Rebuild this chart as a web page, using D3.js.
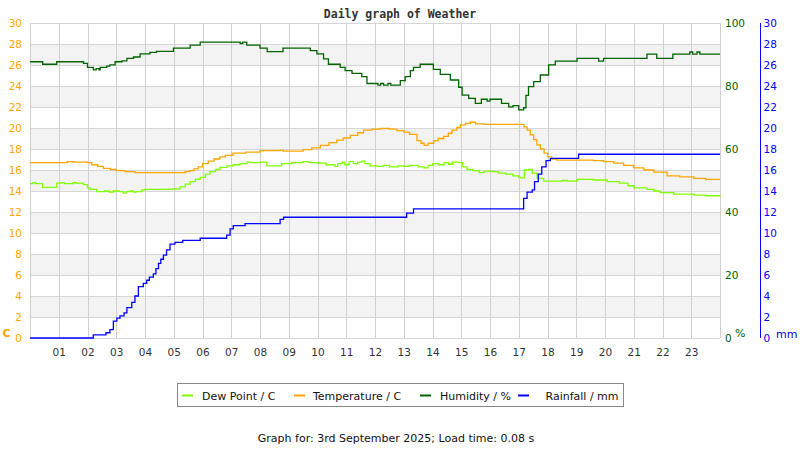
<!DOCTYPE html>
<html>
<head>
<meta charset="utf-8">
<script src="https://cdn.jsdelivr.net/npm/d3@7.9.0/dist/d3.min.js"></script>
<style>
  body { margin: 0; background: #fff; }
  svg { display: block; font-family: "DejaVu Sans", sans-serif; }
</style>
</head>
<body>
<svg id="chart" width="800" height="450"></svg>
<script>
// [hour, value] readings for the day
const temperature = [
  [0,16.7],[1.3,16.8],[1.5,16.75],[2.0,16.7],[2.15,16.5],[2.35,16.35],[2.55,16.15],[2.8,16.05],
  [3.0,15.95],[3.3,15.85],[3.65,15.75],[5.2,15.75],[5.4,15.85],[5.55,15.95],[5.7,16.1],[5.85,16.3],
  [6.0,16.6],[6.2,16.85],[6.4,17.05],[6.6,17.25],[6.8,17.4],[7.06,17.6],[7.5,17.7],[8.0,17.85],
  [8.7,17.9],[8.8,17.8],[9.5,17.95],[9.8,18.1],[10.1,18.35],[10.4,18.6],[10.67,18.85],[10.9,19.05],
  [11.14,19.3],[11.4,19.55],[11.6,19.8],[11.9,19.9],[12.18,19.95],[12.5,19.9],[12.76,19.75],[13.0,19.6],
  [13.2,19.4],[13.46,18.8],[13.6,18.55],[13.71,18.35],[13.85,18.55],[14.04,18.8],[14.2,19.0],[14.39,19.2],
  [14.55,19.5],[14.68,19.8],[14.85,20.05],[14.97,20.3],[15.15,20.45],[15.31,20.55],[15.5,20.4],[15.78,20.35],
  [17.05,20.35],[17.18,20.1],[17.29,19.8],[17.4,19.35],[17.52,18.9],[17.63,18.4],[17.75,18.0],[17.88,17.6],
  [18.0,17.25],[18.15,17.05],[18.33,16.95],[19.6,16.9],[19.95,16.8],[20.3,16.65],[20.65,16.45],[21.0,16.2],
  [21.35,16.0],[21.7,15.8],[22.16,15.45],[22.6,15.35],[23.09,15.2],[23.5,15.1],[24,15.1]
];

const dewPoint = [
  [0,14.7],[0.1,14.8],[0.2,14.7],[0.44,14.35],[0.93,14.75],[1.1,14.8],[1.2,14.7],[1.5,14.8],[1.6,14.75],
  [1.86,14.6],[2.0,14.3],[2.09,14.15],[2.32,13.95],[2.6,14.0],[2.75,13.9],[2.9,14.0],[3.1,13.95],[3.25,13.8],
  [3.35,13.95],[3.5,14.0],[3.6,13.9],[3.7,13.95],[3.89,14.1],[4.0,14.15],[4.93,14.2],[5.22,14.4],[5.4,14.65],
  [5.57,14.9],[5.75,15.1],[5.92,15.3],[6.1,15.6],[6.26,15.85],[6.45,16.05],[6.61,16.25],[6.85,16.4],[7.07,16.5],
  [7.3,16.6],[7.54,16.75],[7.7,16.7],[8.0,16.75],[8.24,16.4],[8.75,16.6],[9.1,16.7],[9.5,16.8],[9.7,16.7],
  [10.0,16.65],[10.3,16.5],[10.6,16.35],[10.7,16.6],[10.85,16.75],[10.95,16.5],[11.1,16.8],[11.25,16.6],
  [11.4,16.75],[11.55,16.85],[11.65,16.6],[11.83,16.4],[12.1,16.35],[12.3,16.45],[12.5,16.3],[12.8,16.4],
  [13.0,16.35],[13.2,16.45],[13.5,16.3],[13.7,16.2],[13.85,16.45],[14.0,16.6],[14.2,16.5],[14.4,16.7],
  [14.55,16.55],[14.7,16.75],[14.9,16.7],[15.05,16.3],[15.2,16.05],[15.4,15.95],[15.63,15.75],[15.8,15.9],
  [16.1,15.85],[16.3,15.7],[16.55,15.6],[16.8,15.45],[17.0,15.3],[17.07,15.25],[17.2,16.0],[17.35,16.05],
  [17.47,15.7],[17.64,15.2],[17.87,14.95],[18.5,15.0],[18.7,14.95],[19.03,15.1],[19.6,15.05],[20.07,14.9],
  [20.5,14.75],[20.8,14.5],[21.0,14.3],[21.46,14.15],[21.7,14.0],[21.92,13.85],[22.39,13.7],[23.09,13.6],
  [23.5,13.55],[24,13.5]
];

const humidity = [
  [0,87.7],[0.44,86.9],[0.93,87.7],[1.86,87.2],[2.0,85.9],[2.2,85.1],[2.3,85.5],[2.4,85.1],[2.44,85.9],
  [2.67,86.3],[2.78,86.7],[2.96,87.7],[3.2,88.0],[3.37,88.8],[3.6,89.2],[3.83,90.2],[4.17,90.7],[4.4,91.0],
  [4.99,92.0],[5.57,93.0],[5.92,93.9],[7.31,93.5],[7.4,93.9],[7.54,93.0],[8.0,92.0],[8.25,90.9],[8.8,92.0],
  [9.75,91.2],[9.98,90.2],[10.21,88.6],[10.38,86.9],[10.79,85.9],[10.96,84.9],[11.2,84.0],[11.54,83.0],
  [11.72,80.8],[12.1,80.3],[12.2,80.8],[12.3,80.3],[12.45,80.8],[12.55,80.3],[12.88,81.7],[13.05,83.0],
  [13.23,84.9],[13.34,85.9],[13.57,86.9],[13.97,86.9],[14.03,85.3],[14.27,83.7],[14.62,81.9],[14.91,79.6],
  [15.03,77.1],[15.26,76.1],[15.49,74.5],[15.7,75.8],[15.9,75.2],[16.0,75.8],[16.3,75.8],[16.4,74.5],
  [16.65,73.4],[16.8,73.8],[17.0,72.4],[17.17,73.1],[17.25,77.0],[17.34,79.8],[17.52,81.4],[17.75,83.5],
  [18.04,86.7],[18.27,87.9],[19.03,88.8],[19.78,87.9],[19.95,88.8],[21.46,90.1],[21.8,88.8],[22.36,90.1],
  [22.9,90.1],[22.95,90.8],[23.05,90.1],[23.2,90.8],[23.3,90.1],[24,90.1]
];

const rainfall = [
  [0,0],[2.2,0.3],[2.64,0.5],[2.78,0.8],[2.9,1.6],[3.02,1.9],[3.13,2.1],[3.27,2.4],[3.37,2.9],[3.54,3.4],
  [3.65,4.0],[3.77,4.9],[3.94,5.2],[4.06,5.5],[4.15,5.8],[4.29,6.1],[4.38,6.6],[4.47,7.1],[4.55,7.5],
  [4.64,7.9],[4.75,8.4],[4.87,8.95],[5.04,9.1],[5.31,9.3],[5.92,9.5],[6.84,9.8],[6.96,10.4],[7.07,10.7],
  [7.48,10.9],[8.7,11.3],[8.82,11.5],[13.1,11.9],[13.34,12.3],[17.17,13.3],[17.29,13.9],[17.47,14.1],
  [17.55,14.9],[17.68,15.6],[17.8,16.3],[17.95,16.9],[18.1,17.1],[19.08,17.5],[24,17.5]
];

const hourTicks = d3.range(1, 24);
const tempTicks = d3.range(0, 31, 2);
const humTicks = [0, 20, 40, 60, 80, 100];
const rainTicks = d3.range(0, 31, 2);

const legendItems = [
  { label: 'Dew Point / C', color: '#80ff00', x: 182, tx: 202 },
  { label: 'Temperature / C', color: '#ffa500', x: 294, tx: 313 },
  { label: 'Humidity / %', color: '#006400', x: 420, tx: 440 },
  { label: 'Rainfall / mm', color: '#0000ff', x: 518, tx: 545.5 }
];

const svg = d3.select('#chart');
const plot = { left: 30, right: 720, top: 23, bottom: 338 };

const x = d3.scaleLinear().domain([0, 24]).range([plot.left, plot.right]);
const yTemp = d3.scaleLinear().domain([0, 30]).range([plot.bottom, plot.top]);
const yHum = d3.scaleLinear().domain([0, 100]).range([plot.bottom, plot.top]);
const yRain = d3.scaleLinear().domain([0, 30]).range([plot.bottom, plot.top]);

// Title
svg.append('text')
  .attr('x', 400).attr('y', 17.5)
  .attr('text-anchor', 'middle')
  .style('font-family', '"DejaVu Sans Mono", monospace')
  .style('font-weight', 'bold')
  .style('font-size', '11.5px')
  .attr('fill', '#333')
  .text('Daily graph of Weather');

// Alternating bands
svg.append('g')
  .selectAll('rect')
  .data(tempTicks.filter((d) => d % 4 === 2 && d < 30))
  .join('rect')
  .attr('x', plot.left)
  .attr('width', plot.right - plot.left)
  .attr('y', (d) => yTemp(d + 2))
  .attr('height', (d) => yTemp(d) - yTemp(d + 2))
  .attr('fill', '#f3f3f3');

// Grid
const grid = svg.append('g').attr('stroke', '#d6d6d6').attr('stroke-width', 1);
grid.selectAll('.h')
  .data(tempTicks)
  .join('line')
  .attr('x1', plot.left).attr('x2', plot.right)
  .attr('y1', (d) => Math.round(yTemp(d)) + 0.5)
  .attr('y2', (d) => Math.round(yTemp(d)) + 0.5);
grid.selectAll('.v')
  .data([0, ...hourTicks, 24])
  .join('line')
  .attr('x1', (d) => Math.round(x(d)) + 0.5)
  .attr('x2', (d) => Math.round(x(d)) + 0.5)
  .attr('y1', plot.top).attr('y2', plot.bottom)
  .attr('stroke', '#cfcfcf');

// Axes
function styleAxis(g, color, size) {
  g.select('.domain').remove();
  g.selectAll('text')
    .attr('fill', color)
    .style('font-family', '"DejaVu Sans", sans-serif')
    .style('font-size', size);
}

svg.append('g')
  .attr('transform', `translate(${plot.left},0)`)
  .call(d3.axisLeft(yTemp).tickValues(tempTicks).tickSize(0).tickPadding(8))
  .call((g) => styleAxis(g, '#ffa500', '10.5px'));

svg.append('g')
  .attr('transform', `translate(${plot.right},0)`)
  .call(d3.axisRight(yHum).tickValues(humTicks).tickSize(0).tickPadding(5))
  .call((g) => styleAxis(g, '#006400', '10.5px'));

const rainAxis = svg.append('g')
  .attr('transform', 'translate(760,0)')
  .call(d3.axisRight(yRain).tickValues(rainTicks).tickSize(0).tickPadding(3.5))
  .call((g) => styleAxis(g, '#0000ff', '10.5px'));
rainAxis.append('line')
  .attr('x1', 0.5).attr('x2', 0.5)
  .attr('y1', plot.top).attr('y2', plot.bottom)
  .attr('stroke', '#0000ff');

svg.append('g')
  .attr('transform', `translate(0,${plot.bottom})`)
  .call(d3.axisBottom(x).tickValues(hourTicks)
    .tickFormat((d) => String(d).padStart(2, '0'))
    .tickSize(0).tickPadding(11))
  .call((g) => styleAxis(g, '#333', '10.5px'));

// Unit labels
const units = [
  { text: 'C', x: 2.5, y: 337, color: '#ffa500', weight: 'bold' },
  { text: '%', x: 735, y: 337, color: '#006400', weight: 'normal' },
  { text: 'mm', x: 776, y: 337.5, color: '#0000ff', weight: 'normal' }
];
svg.append('g')
  .selectAll('text')
  .data(units)
  .join('text')
  .attr('x', (d) => d.x).attr('y', (d) => d.y)
  .attr('fill', (d) => d.color)
  .style('font-size', '11px')
  .style('font-weight', (d) => d.weight)
  .text((d) => d.text);

// Series
const lineFor = (scale) => d3.line()
  .x((d) => x(d[0]))
  .y((d) => scale(d[1]))
  .curve(d3.curveStepAfter);

const series = [
  { data: dewPoint, scale: yTemp, color: '#80ff00' },
  { data: temperature, scale: yTemp, color: '#ffa500' },
  { data: humidity, scale: yHum, color: '#006400' },
  { data: rainfall, scale: yRain, color: '#0000ff' }
];
svg.append('g')
  .selectAll('path')
  .data(series)
  .join('path')
  .attr('d', (d) => lineFor(d.scale)(d.data))
  .attr('fill', 'none')
  .attr('stroke', (d) => d.color)
  .attr('stroke-width', 1.3);

// Legend
const legend = svg.append('g');
legend.append('rect')
  .attr('x', 177.5).attr('y', 383.5)
  .attr('width', 446).attr('height', 23)
  .attr('fill', '#fff')
  .attr('stroke', '#888');
const item = legend.selectAll('.item')
  .data(legendItems)
  .join('g');
item.append('line')
  .attr('x1', (d) => d.x).attr('x2', (d) => d.x + 11)
  .attr('y1', 395.5).attr('y2', 395.5)
  .attr('stroke', (d) => d.color)
  .attr('stroke-width', 2);
item.append('text')
  .attr('x', (d) => d.tx).attr('y', 399.5)
  .attr('fill', '#111')
  .style('font-size', '11px')
  .text((d) => d.label);

// Footer
svg.append('text')
  .attr('x', 396).attr('y', 442)
  .attr('text-anchor', 'middle')
  .attr('fill', '#111')
  .style('font-size', '11px')
  .text('Graph for: 3rd September 2025; Load time: 0.08 s');
</script>
</body>
</html>
